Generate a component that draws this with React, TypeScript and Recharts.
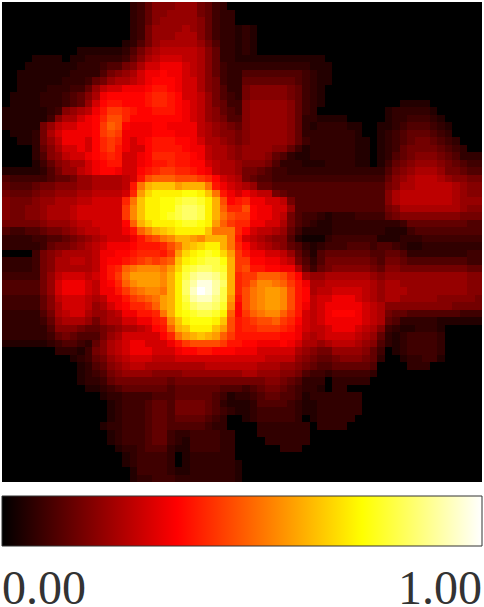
import { Bar, BarChart, Scatter, ScatterChart, XAxis, YAxis } from 'recharts';

// one character per cell, looked up in cellLevels
const cellLevels = [
  0, 0.025, 0.05, 0.07, 0.09, 0.115, 0.14, 0.165, 0.19, 0.215, 0.245, 0.27,
  0.3, 0.345, 0.37, 0.395, 0.42, 0.45, 0.48, 0.51, 0.54, 0.57, 0.6, 0.63,
  0.66, 0.69, 0.73, 0.76, 0.79, 0.82, 0.85, 0.88, 0.91, 0.94, 0.97, 1,
];

const heatLeft = [
  '00000000000000000346888999764300',
  '00000000000000000346889999764330',
  '00000000000000000346899999864330',
  '000000000000000003479999a9864332',
  '00000000000000000347999aaa864332',
  '000000000000000023579aaaaa975332',
  '00000000002222223579abbbbba86332',
  '0000222202233333468abcccbba86332',
  '000222222233345578accdddcba86433',
  '00222222233335789acddeddcba86433',
  '002222223334679aabcdeeedcca87433',
  '0022223334469bccdddeffedcca87533',
  '022223334568adeeeeefggfeccb97543',
  '022223334569ceffeeefggfedcb97644',
  '2222223489abdfhhgfeefffedcb98654',
  '22222248aacdegiigeeeeeeedcb98755',
  '2222279bccddehjiedddeeddddba9876',
  '022237acddddehihddddeeedddba9887',
  '0022379bdddceghgdcdefffeedcaa987',
  '0000368accdceghfdcceffffeddbaa98',
  '00003589bccdefgfccdegggffedbaa98',
  '000024689aacdeffccdeffgffeecbaa9',
  '2222235799bcdeedccefghhggfedbaa9',
  '544444566799aaaabcfijjjiiihgecba',
  '655567788899aaaabfknooomnnnkfdcb',
  '7666788999aabbbbcgmpqqqqrrqokfdc',
  '8777899aaabbccccgkoqqrrsttsqnief',
  '877889aaabcccccchloqqrrtuutqnjgg',
  '877889aaabcccccchloqqrstuutqnkih',
  '777778999abbccccejnpqqqrssrqmjhg',
  '5445567789abbcccdfjlnopqqqqokkkg',
  '333344556789abcccdfhiklnnmlnnnkf',
  '33333467789abcdddefffgiknopqqnkg',
  '00004789aaaabddeefgggfhmpqrsrpmh',
  '3333478aabbabdeefghihijoqrsttrnh',
  '3333478aaaaabdfgjklllkmpstuutsnh',
  '4444479bcccbcdfhkmmmmlnqtvwwvtng',
  '5555579cdddcbdegjlmmmlnquwyywung',
  '5555579cdddcbddfhjkllknquxzywtng',
  '4444468bcccbabddfhijkmnqtwxxvtmf',
  '4444468acccb9acdegghjmnqsuvvusle',
  '3333357abcca99abddffgknqrsttsqje',
  '33333469aaa979aaccddfgloqrrrqoif',
  '3333335888766789aabcefjnoqqqomif',
  '333333467655579acccccegkmnonmjhf',
  '22222234554368abcddcccdfhiiiihff',
  '00000003332478abcdddcccdeeffeeed',
  '000000000234679abcccbbbccccccccc',
  '0000000000235689abbaaaaaaaabbbbb',
  '00000000002345789999888899999999',
  '00000000002334677777776777777777',
  '00000000000223456666665666666555',
  '00000000000002334444555666665423',
  '00000000000000234445665777765322',
  '00000000000000234445665777765432',
  '00000000000000234445665666654300',
  '00000000000002334445665555543300',
  '00000000000000234445664334444330',
  '00000000000000234445664324444330',
  '00000000000000023345553224444330',
  '00000000000000002344443023333330',
  '00000000000000002344443023333332',
  '00000000000000000244443223333332',
  '00000000000000000233444333333332',
];

// right half of each row, trailing zeros left out
const heatRight = [
  '',
  '',
  '',
  '32',
  '32',
  '32',
  '32',
  '22222222222',
  '333333333222',
  '555555554322',
  '666666654322',
  '78888876432',
  '78888876432',
  '89999986432000000000022220000000',
  '89999986430000000002333332',
  '899999863322220000023344432',
  '8999998632333322002234555432',
  '8999998633333332002345666543',
  '89999986433333322023456776543',
  '999988642333333220234677776543',
  '99986532233333322023567888765333',
  '88875333222333322024678999876544',
  '77654433333333333335789aaa977655',
  '7655444444444444444689abbba98877',
  'a96655555555555555578aabbbbba988',
  'dcbb7655555555555558abbbbbbba988',
  'gddccb75555555555558abbbbbbba999',
  'ieddcc955555555555578aaaaaaaa988',
  'heddcb75443233344446788888888777',
  'gddcca75432233333333346666666655',
  'ecbba964222233333332224555555555',
  'cba98852111344444422233344444444',
  'ecba9865323444555455432233333333',
  'fddccb96425666666556653333333344',
  'heeddcb7535777777657765555555544',
  'iffeedda646788888768877777777766',
  'hhjjjigea99aaaaaa989999999999988',
  'hjllkjhfdaabbbbbba9aa99999999988',
  'iklmmlifeabbccccba9aaa9999999988',
  'iklmmlifebccdddcba9aa99999888887',
  'iklmmlifdbcdddddcba8888888887777',
  'hjklljhfcbcdeeedcba7665555555444',
  'ghiijhgecbcdddddcba6533333222222',
  'gghhhgfdcbbcdddcba84322333200000',
  'fffffeedbabccccba963234444300000',
  'eedddedcaa9abbba9853234444300000',
  'ddccccca98779999864023444430',
  'cccbbbb987667888763002334420',
  'bbaaa99876556666650000333',
  'aa9998875443444443',
  '77788765333033333',
  '45677654332033',
  '3456655423333333',
  '2355554322333333',
  '2344444322333333',
  '234444430233333',
  '00333333303333',
  '003333333',
  '000333333',
  '00000333',
  '',
  '',
  '',
  '',
];

const colorStops = [
  { offset: 0, color: '#000000' },
  { offset: 0.365, color: '#ff0000' },
  { offset: 0.75, color: '#ffff00' },
  { offset: 1, color: '#ffffff' },
];
const scaleTicks = [0, 1];

const GRID = 64;
const MAP_SIZE = 480;
const CELL = MAP_SIZE / GRID;

const hot = (v: number) => {
  const r = Math.min(1, v / 0.365);
  const g = Math.max(0, Math.min(1, (v - 0.365) / 0.385));
  const b = Math.max(0, Math.min(1, (v - 0.75) / 0.25));
  return `rgb(${Math.round(r * 255)},${Math.round(g * 255)},${Math.round(b * 255)})`;
};

const cells = heatLeft.flatMap((left, row) => {
  const line = left + heatRight[row].padEnd(GRID - left.length, '0');
  return line.split('').map((ch, col) => ({
    col: col + 0.5,
    row: row + 0.5,
    value: cellLevels[parseInt(ch, 36)],
  }));
});

const HeatCell = ({ cx, cy, payload }: any) => (
  <rect
    x={cx - CELL / 2}
    y={cy - CELL / 2}
    width={CELL}
    height={CELL}
    fill={hot(payload.value)}
    shapeRendering="crispEdges"
  />
);

const ScaleTick = ({ x, payload }: any) => (
  <text
    x={x}
    y={109}
    textAnchor={payload.value === 0 ? 'start' : 'end'}
    fontFamily="Liberation Serif"
    fontSize={48}
    fill="#333333"
  >
    {payload.value.toFixed(2)}
  </text>
);

export default function App() {
  return (
    <div style={{ position: 'absolute', left: 0, top: 0, width: 484, height: 607 }}>
      <ScatterChart width={484} height={484} margin={{ top: 2, right: 2, bottom: 2, left: 2 }}>
        <XAxis type="number" dataKey="col" domain={[0, GRID]} hide />
        <YAxis type="number" dataKey="row" domain={[0, GRID]} reversed hide />
        <Scatter data={cells} shape={<HeatCell />} isAnimationActive={false} />
      </ScatterChart>
      <BarChart
        width={484}
        height={112}
        layout="vertical"
        data={[{ name: 'scale', value: 1 }]}
        margin={{ top: 1, right: 2, bottom: 0, left: 2 }}
        barCategoryGap={0}
        style={{ position: 'absolute', left: 0, top: 495 }}
      >
        <defs>
          <linearGradient id="hotScale" x1="0" y1="0" x2="1" y2="0">
            {colorStops.map((s) => (
              <stop key={s.offset} offset={s.offset} stopColor={s.color} />
            ))}
          </linearGradient>
        </defs>
        <XAxis
          type="number"
          domain={[0, 1]}
          ticks={scaleTicks}
          interval={0}
          height={61}
          axisLine={false}
          tickLine={false}
          tick={<ScaleTick />}
        />
        <YAxis type="category" dataKey="name" hide />
        <Bar dataKey="value" fill="url(#hotScale)" stroke="#333333" isAnimationActive={false} />
      </BarChart>
    </div>
  );
}
